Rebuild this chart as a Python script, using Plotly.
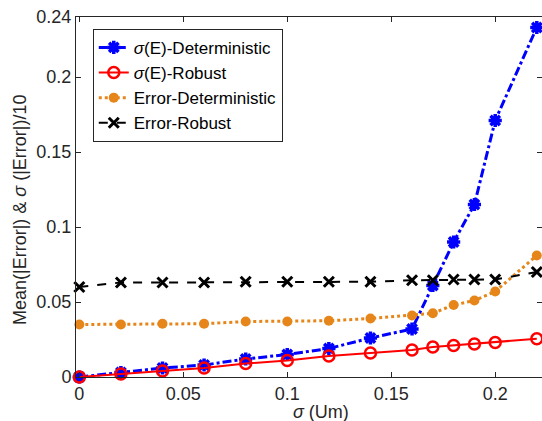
import plotly.graph_objects as go

sigma = [0, 0.02, 0.04, 0.06, 0.08, 0.10, 0.12, 0.14, 0.16, 0.17, 0.18, 0.19, 0.20, 0.22]
sigE_det = [0, 0.003, 0.006, 0.008, 0.012, 0.015, 0.019, 0.026, 0.032, 0.061, 0.090, 0.115, 0.171, 0.233]
sigE_rob = [0, 0.002, 0.004, 0.006, 0.009, 0.011, 0.014, 0.016, 0.018, 0.020, 0.021, 0.022, 0.023, 0.0255]
err_det = [0.035, 0.035, 0.0355, 0.0355, 0.037, 0.037, 0.0375, 0.039, 0.041, 0.0425, 0.048, 0.051, 0.057, 0.081]
err_rob = [0.060, 0.063, 0.063, 0.063, 0.0635, 0.0635, 0.0635, 0.0635, 0.0645, 0.0645, 0.065, 0.065, 0.065, 0.070]

xticks = [0, 0.05, 0.1, 0.15, 0.2]
xticklabels = ["0", "0.05", "0.1", "0.15", "0.2"]
yticks = [0, 0.05, 0.1, 0.15, 0.2, 0.24]
yticklabels = ["0", "0.05", "0.1", "0.15", "0.2", "0.24"]

FONT = "Liberation Sans, Arial"
fig = go.Figure()
fig.add_trace(go.Scatter(x=sigma, y=sigE_det, mode="lines+markers", name="<i>σ</i>(E)-Deterministic",
                         line=dict(color="#0000ff", width=3, dash="dashdot"),
                         marker=dict(symbol="asterisk-open", size=11, color="#0000ff", line=dict(width=3.5, color="#0000ff")),
                         cliponaxis=False))
fig.add_trace(go.Scatter(x=sigma, y=sigE_rob, mode="lines+markers", name="<i>σ</i>(E)-Robust",
                         line=dict(color="#ff0000", width=2),
                         marker=dict(symbol="circle-open", size=11, color="#ff0000", line=dict(width=2.5, color="#ff0000")),
                         cliponaxis=False))
fig.add_trace(go.Scatter(x=sigma, y=err_det, mode="lines+markers", name="Error-Deterministic",
                         line=dict(color="#e6861a", width=3, dash="dot"),
                         marker=dict(symbol="circle", size=10, color="#e6861a"),
                         cliponaxis=False))
fig.add_trace(go.Scatter(x=sigma, y=err_rob, mode="lines+markers", name="Error-Robust",
                         line=dict(color="#000000", width=2, dash="dash"),
                         marker=dict(symbol="x-thin-open", size=10, color="#000000", line=dict(width=3, color="#000000")),
                         cliponaxis=False))

axis_common = dict(showgrid=False, zeroline=False, showline=True, linecolor="#262626", linewidth=1,
                   ticks="inside", ticklen=5, tickcolor="#262626", mirror="allticks",
                   tickfont=dict(family=FONT, size=18, color="#262626"))

fig.update_layout(
    width=542, height=421,
    margin=dict(l=76, r=0, t=17, b=44),
    paper_bgcolor="white", plot_bgcolor="white",
    font=dict(family=FONT, color="#262626"),
    showlegend=True,
    legend=dict(x=0.036, y=0.967, xanchor="left", yanchor="top",
                bgcolor="white", bordercolor="#262626", borderwidth=1,
                font=dict(family=FONT, size=17, color="black"), tracegroupgap=0, itemwidth=30),
    xaxis=dict(range=[-0.0016, 0.2225], tickvals=xticks, ticktext=xticklabels, **axis_common),
    yaxis=dict(range=[0, 0.24], tickvals=yticks, ticktext=yticklabels, **axis_common),
    annotations=[
        dict(text="<i>σ</i> (Um)", xref="paper", yref="paper", x=0.526, y=-0.097,
             xanchor="center", yanchor="middle", showarrow=False,
             font=dict(family=FONT, size=18, color="#262626")),
        dict(text="Mean(|Error|) & <i>σ</i> (|Error|)/10", xref="paper", yref="paper", x=-0.12, y=0.464,
             xanchor="center", yanchor="middle", textangle=-90, showarrow=False,
             font=dict(family=FONT, size=18, color="#262626")),
    ],
)

fig.write_html("out.html")
